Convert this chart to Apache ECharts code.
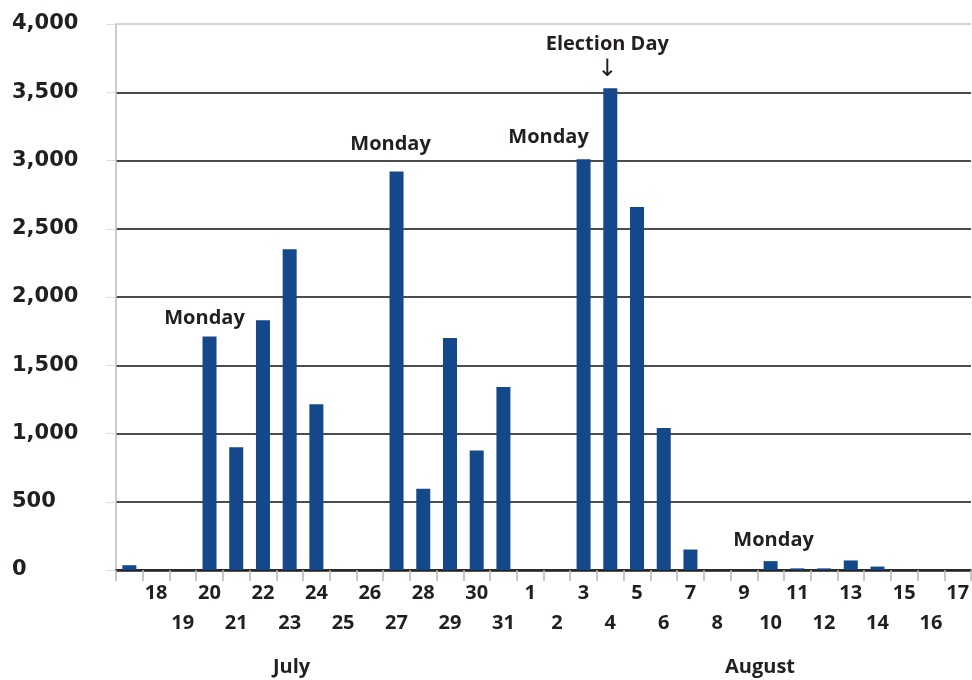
<!DOCTYPE html>
<html>
<head>
<meta charset="utf-8">
<script src="https://cdn.jsdelivr.net/npm/echarts@6/dist/echarts.min.js"></script>
<style>
html,body{margin:0;padding:0;background:#fff;overflow:hidden;}
#main{width:972px;height:680px;}
</style>
</head>
<body>
<div id="main"></div>
<script>
// Categories: July 17 .. August 17
const categories = [
  'Jul 17','Jul 18','Jul 19','Jul 20','Jul 21','Jul 22','Jul 23','Jul 24','Jul 25','Jul 26',
  'Jul 27','Jul 28','Jul 29','Jul 30','Jul 31',
  'Aug 1','Aug 2','Aug 3','Aug 4','Aug 5','Aug 6','Aug 7','Aug 8','Aug 9','Aug 10',
  'Aug 11','Aug 12','Aug 13','Aug 14','Aug 15','Aug 16','Aug 17'
];
const dayLabels = [
  '','18','19','20','21','22','23','24','25','26',
  '27','28','29','30','31',
  '1','2','3','4','5','6','7','8','9','10',
  '11','12','13','14','15','16','17'
];
const values = [
  35, 0, 0, 1710, 900, 1830, 2350, 1215, 0, 0,
  2920, 595, 1700, 875, 1340,
  0, 0, 3010, 3530, 2660, 1040, 150, 0, 0, 65,
  12, 12, 70, 25, 0, 0, 0
];
const yTicks = [0, 500, 1000, 1500, 2000, 2500, 3000, 3500, 4000];
const months = ['July', 'August'];
const annotations = [
  { day: 'Jul 20', text: 'Monday' },
  { day: 'Jul 27', text: 'Monday' },
  { day: 'Aug 3', text: 'Monday' },
  { day: 'Aug 10', text: 'Monday' },
  { day: 'Aug 4', text: 'Election Day' }
];
const annotationOffsets = [[-5, -18], [-6, -27], [-35, -22], [3, -21], [-3, -31]];

const textColor = '#231f20';
const chart = echarts.init(document.getElementById('main'));

const markData = annotations.map((a, i) => {
  const idx = categories.indexOf(a.day);
  const isElection = a.text === 'Election Day';
  return {
    coord: [a.day, values[idx]],
    symbol: 'rect',
    symbolSize: 1,
    itemStyle: { color: 'rgba(0,0,0,0)' },
    label: {
      show: true,
      position: 'inside',
      offset: annotationOffsets[i],
      formatter: isElection ? '{a|' + a.text + '}\n{b|↓}' : a.text,
      color: textColor,
      fontFamily: 'Open Sans',
      fontWeight: 'bold',
      fontSize: 20,
      rich: {
        a: { fontFamily: 'Open Sans', fontWeight: 'bold', fontSize: 20, color: textColor, lineHeight: 26 },
        b: { fontFamily: 'DejaVu Sans', fontWeight: 'normal', fontSize: 24, color: textColor, lineHeight: 26 }
      }
    }
  };
});

chart.setOption({
  animation: false,
  backgroundColor: '#fff',
  grid: { left: 116, top: 24, width: 860, bottom: 110, containLabel: false },
  xAxis: {
    type: 'category',
    data: categories,
    boundaryGap: true,
    axisLine: { show: true, lineStyle: { color: '#222', width: 2.5 } },
    axisTick: { show: true, alignWithLabel: false, length: 11, lineStyle: { color: '#b5b5b5', width: 1.5 } },
    axisLabel: {
      interval: 0,
      margin: 8,
      color: textColor,
      fontFamily: 'Open Sans',
      fontWeight: 'bold',
      fontSize: 20,
      lineHeight: 30,
      formatter: function (v, i) {
        const d = dayLabels[i];
        return i % 2 === 1 ? d : '\n' + d;
      }
    },
    splitLine: { show: false }
  },
  yAxis: {
    type: 'value',
    min: 0,
    max: 4000,
    interval: 500,
    axisLine: { show: true, lineStyle: { color: '#bdbdbd', width: 1.5 } },
    axisTick: { show: true, length: 10, lineStyle: { color: '#dcdcdc' } },
    axisLabel: {
      align: 'left',
      margin: 104,
      color: textColor,
      fontFamily: 'DejaVu Sans',
      fontWeight: 'bold',
      fontSize: 21,
      formatter: v => yTicks.includes(v) ? v.toLocaleString('en-US') : ''
    },
    splitLine: {
      show: true,
      lineStyle: {
        color: ['#111', '#111', '#111', '#111', '#111', '#111', '#111', '#111', '#c4c4c4'],
        width: 1.5
      }
    }
  },
  series: [{
    type: 'bar',
    data: values,
    barWidth: 14,
    itemStyle: { color: '#14488a' },
    markPoint: { data: markData, silent: true }
  }],
  graphic: [
    { type: 'text', left: 273, top: 657, style: { text: months[0], fill: textColor, font: 'bold 20px "Open Sans"' } },
    { type: 'text', left: 725, top: 657, style: { text: months[1], fill: textColor, font: 'bold 20px "Open Sans"' } }
  ]
});
</script>
</body>
</html>
